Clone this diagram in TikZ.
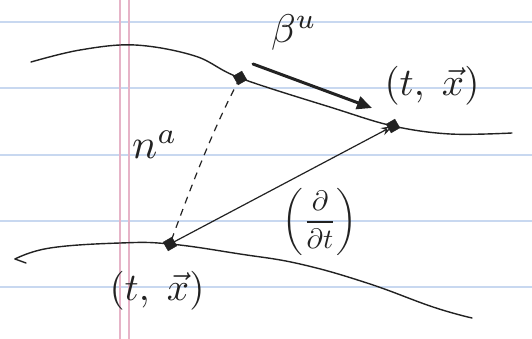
\documentclass[tikz,border=0pt]{standalone}
\usepackage{graphicx}
\usetikzlibrary{arrows.meta}
\definecolor{ink}{HTML}{222222}
\definecolor{ruleblue}{HTML}{C8D8F0}
\definecolor{rulepink}{HTML}{E6B4C8}
\newcommand\hwtext[2]{\scalebox{#1}{#2}}
\begin{document}
\begin{tikzpicture}[x=1pt,y=-1pt,
  ruled/.style={ruleblue,line width=2.5pt},
  margin/.style={rulepink,line width=2pt},
  surf/.style={ink,line width=1.4pt,line cap=round},
  vec/.style={ink,line width=1.2pt,-{Stealth[length=12pt,width=8pt,open]}},
  bigvec/.style={ink,line width=3pt,line cap=round,-{Triangle[length=15pt,width=13pt]}},
  dot/.style={fill=ink,draw=ink,rectangle,rotate=30,minimum size=10pt,inner sep=0pt},
  lbl/.style={ink,inner sep=1pt}]
\useasboundingbox (0,0) rectangle (532,339);
\fill[white] (0,0) rectangle (532,339);
\foreach \y in {22,88,155,221,287} \draw[ruled] (0,\y) -- (532,\y);
\draw[margin] (120,0) -- (120,339);
\draw[margin] (129,0) -- (129,339);
% points
\coordinate (P) at (240,78);
\coordinate (Q) at (393,126);
\coordinate (R) at (170,244);
% upper surface
\draw[surf] plot[smooth,tension=0.6] coordinates {(31,62) (80,50) (135,45) (195,56) (240,78) (333,108) (393,126) (450,134) (512,133)};
% lower surface
\draw[surf] plot[smooth,tension=0.7] coordinates {(15,259) (50,248) (120,243) (170,244) (240,254) (300,264) (367,283) (433,307) (472,318)};
\draw[surf] (15,259) -- (26,263);
% dashed normal
\draw[ink,line width=1.2pt,dashed,dash pattern=on 7pt off 6pt] (P) .. controls (212,130) and (188,195) .. (R);
% time vector
\draw[vec] (R) -- (Q);
% shift vector
\coordinate (S1) at (253,64);
\coordinate (S2) at (372,108);
\draw[bigvec] (S1) -- (S2);
\node[dot] (dP) at (P) {};
\node[dot] (dQ) at (Q) {};
\node[dot] (dR) at (R) {};
% labels
\node[lbl] (beta) at (294,33) {\hwtext{4}{$\beta^{u}$}};
\node[lbl] (tx1) at (432,86) {\hwtext{3.9}{$(t,\;\vec{x})$}};
\node[lbl] (tx2) at (157,291) {\hwtext{3.9}{$(t,\;\vec{x})$}};
\node[lbl] (na) at (155,145) {\hwtext{4.2}{$n^{a}$}};
\node[lbl] (dt) at (320,222) {\hwtext{2.8}{$\left(\displaystyle\frac{\partial}{\partial t}\right)$}};
\end{tikzpicture}
\end{document}
